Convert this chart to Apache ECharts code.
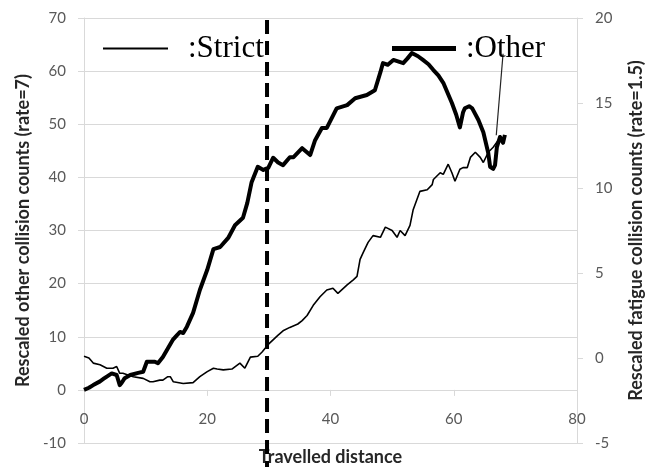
<!DOCTYPE html>
<html>
<head>
<meta charset="utf-8">
<script src="https://cdn.jsdelivr.net/npm/echarts@6/dist/echarts.min.js"></script>
<style>
html,body{margin:0;padding:0;background:#fff;}
#chart{width:646px;height:467px;}
</style>
</head>
<body>
<div id="chart"></div>
<script>
// Thick line "Other" (left axis): [travelled distance, rescaled other collision count]
const otherX = [0,0.8,1.5,2.6,3.2,3.7,4.5,5.3,5.8,6.1,6.6,7.5,8.8,9.6,10.2,11.5,12,12.8,13.6,14.4,15.1,15.6,16.1,16.7,17.7,18.8,20,21,22.1,23.4,24.5,25.8,26.5,27.2,28.2,29.1,29.9,30.7,31.5,32.3,33.4,34,35.4,36.7,37.5,38.6,39.4,41,42.7,44,45.9,47.2,48.1,48.5,49.3,50.2,51.8,52.5,53.2,54.2,55,55.9,56.7,57.5,58.3,59.7,60.4,61,61.5,61.8,62.5,63,64,64.8,65.6,65.9,66.4,66.7,67,67.5,68,68.3];
const otherY = [0,0.4,0.9,1.6,2.1,2.5,3.1,2.8,0.9,1.3,2.2,2.8,3.2,3.4,5.3,5.3,5.0,6.2,7.8,9.4,10.3,10.9,10.7,11.9,14.5,18.8,22.6,26.5,26.9,28.6,31.0,32.4,35.2,39.1,42.0,41.4,41.8,43.7,42.8,42.3,43.8,43.8,45.5,44.2,47.0,49.3,49.3,53.0,53.6,54.9,55.5,56.4,59.8,61.5,61.2,62.1,61.5,62.4,63.4,62.8,62.1,61.3,60.2,59.2,57.8,54.0,51.8,49.4,52.2,53.0,53.4,53.0,50.8,48.5,44.6,42.0,41.6,42.3,45.7,47.6,46.5,48.0];

// Thin line "Strict" (right axis): [travelled distance, rescaled fatigue collision count]
const strictX = [0,0.8,1.5,2.6,3.7,4.7,5.3,5.8,6.3,8,9.6,10.7,11.2,12.3,12.8,13.6,14,14.5,16.1,16.4,17.7,18.8,20,21,21.6,22.6,24,25.3,26.1,27,28.2,28.9,29.9,31.5,32.3,33.4,34.7,35.4,36.2,37.2,38.3,39.4,40.4,41.2,42.7,43.7,44.3,44.8,45.3,46.1,46.9,48.1,48.9,50,50.8,51.3,52.1,52.9,53.4,54.5,55.7,56.5,56.7,57.8,58.3,59.1,59.7,60.2,61,61.5,62.2,62.7,63.5,64.3,64.8,65.6,66.4,67.2,67.9];
const strictY = [0.1,0,-0.3,-0.4,-0.6,-0.6,-0.5,-0.9,-0.9,-1.1,-1.2,-1.4,-1.4,-1.3,-1.3,-1.1,-1.1,-1.4,-1.5,-1.6,-1.45,-1.1,-0.8,-0.6,-0.65,-0.7,-0.65,-0.3,-0.6,0.05,0.1,0.35,0.8,1.35,1.6,1.8,2.0,2.2,2.5,3.1,3.6,4.0,4.1,3.8,4.3,4.6,4.8,5.8,6.2,6.8,7.2,7.1,7.7,7.5,7.1,7.5,7.2,7.8,8.7,9.8,9.9,10.2,10.5,10.9,10.8,11.4,10.9,10.4,11.1,11.2,11.2,11.8,12.1,11.8,11.5,12.1,12.4,12.8,13.0];

// Stray thin segment near the end (right axis)
const spikeX = [66.9, 68.0];
const spikeY = [13.1, 17.9];

// Vertical dashed divider position (travelled distance)
const dividerX = 29.7;

const xTicks = [0, 20, 40, 60, 80];
const leftTicks = [-10, 0, 10, 20, 30, 40, 50, 60, 70];
const rightTicks = [-5, 0, 5, 10, 15, 20];

const zip = (a, b) => a.map((v, i) => [v, b[i]]);

const chart = echarts.init(document.getElementById('chart'), null, {renderer: 'canvas'});
const gray = '#d9d9d9';
const labelColor = '#595959';
const labelFont = 'Lato';

chart.setOption({
  animation: false,
  backgroundColor: '#fff',
  grid: {left: 84, right: 69, top: 18, bottom: 24, containLabel: false, outerBoundsMode: 'none'},
  legend: [
    {
      data: ['Strict'], left: 98, top: 28, icon: 'rect', itemWidth: 65, itemHeight: 2,
      formatter: n => ':' + n,
      textStyle: {fontFamily: 'Liberation Serif', fontSize: 31, color: '#000', padding: [0, 0, 0, 15]},
      selectedMode: false
    },
    {
      data: ['Other'], left: 387, top: 28, icon: 'rect', itemWidth: 64, itemHeight: 5,
      formatter: n => ':' + n,
      textStyle: {fontFamily: 'Liberation Serif', fontSize: 31, color: '#000', padding: [0, 0, 0, 5]},
      selectedMode: false
    }
  ],
  xAxis: {
    type: 'value', min: xTicks[0], max: xTicks[xTicks.length - 1], interval: 20,
    name: 'Travelled distance', nameLocation: 'middle', nameGap: 58,
    nameTextStyle: {fontFamily: labelFont, fontWeight: 'bold', fontSize: 18, color: '#262626'},
    axisLine: {onZero: false, lineStyle: {color: gray, width: 1}},
    axisTick: {show: true, length: 6, lineStyle: {color: gray}},
    axisLabel: {fontFamily: labelFont, fontSize: 15, color: labelColor, margin: 22},
    splitLine: {show: false}
  },
  yAxis: [
    {
      type: 'value', min: leftTicks[0], max: leftTicks[leftTicks.length - 1], interval: 10,
      name: 'Rescaled other collision counts (rate=7)', nameLocation: 'middle', nameGap: 52, nameRotate: 90,
      nameTextStyle: {fontFamily: labelFont, fontWeight: 'bold', fontSize: 18, color: '#262626'},
      axisLine: {show: true, onZero: false, lineStyle: {color: gray}},
      axisTick: {show: true, length: 6, lineStyle: {color: gray}},
      axisLabel: {fontFamily: labelFont, fontSize: 15, color: labelColor, margin: 18},
      splitLine: {show: true, lineStyle: {color: gray, width: 1}}
    },
    {
      type: 'value', min: rightTicks[0], max: rightTicks[rightTicks.length - 1], interval: 5, position: 'right',
      name: 'Rescaled fatigue collision counts (rate=1.5)', nameLocation: 'middle', nameGap: 50, nameRotate: 90,
      nameTextStyle: {fontFamily: labelFont, fontWeight: 'bold', fontSize: 18, color: '#262626'},
      axisLine: {show: true, onZero: false, lineStyle: {color: gray}},
      axisTick: {show: true, length: 6, lineStyle: {color: gray}},
      axisLabel: {fontFamily: labelFont, fontSize: 15, color: labelColor, margin: 18},
      splitLine: {show: false}
    }
  ],
  series: [
    {
      name: 'Strict', type: 'line', yAxisIndex: 1, data: zip(strictX, strictY),
      showSymbol: false, symbol: 'none', color: '#000',
      lineStyle: {color: '#000', width: 1.6}
    },
    {
      name: 'spike', type: 'line', yAxisIndex: 1, data: zip(spikeX, spikeY),
      showSymbol: false, symbol: 'none', color: '#000',
      lineStyle: {color: '#222', width: 1.2}
    },
    {
      name: 'Other', type: 'line', yAxisIndex: 0, data: zip(otherX, otherY),
      showSymbol: false, symbol: 'none', color: '#000',
      lineStyle: {color: '#000', width: 4, join: 'round'}
    }
  ]
});

// Move the x axis up so it crosses the left axis at zero (computed through the y scale)
const zeroPx = chart.convertToPixel({yAxisIndex: 0}, 0);
const bottomPx = chart.convertToPixel({yAxisIndex: 0}, leftTicks[0]);
// Dashed vertical divider, positioned through the x axis scale
const px = chart.convertToPixel({xAxisIndex: 0}, dividerX);
const topPx = chart.convertToPixel({yAxisIndex: 0}, leftTicks[leftTicks.length - 1]);
chart.setOption({
  xAxis: {offset: zeroPx - bottomPx},
  graphic: [{
    type: 'line', z: 100,
    shape: {x1: px, y1: topPx + 2, x2: px, y2: chart.getHeight()},
    style: {stroke: '#000', lineWidth: 4, lineDash: [14, 7]}
  }]
});
</script>
</body>
</html>
